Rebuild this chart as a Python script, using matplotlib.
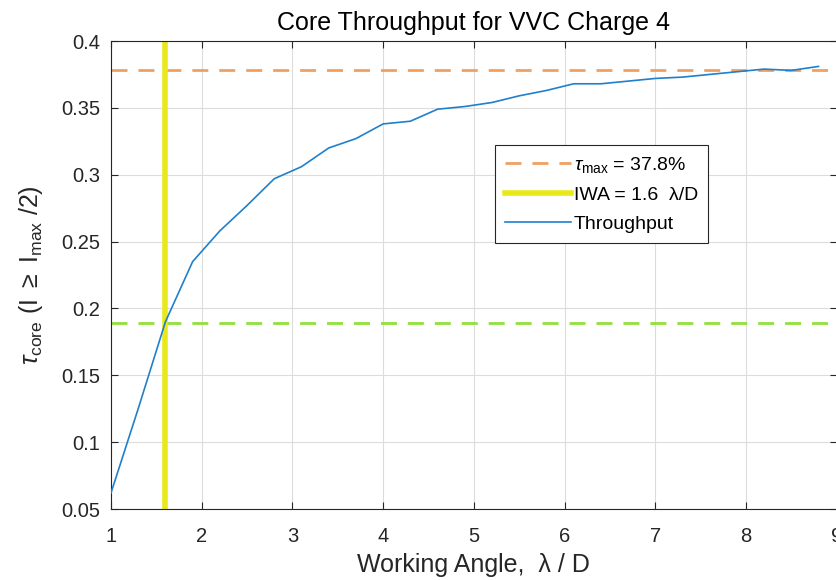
import numpy as np
import matplotlib
matplotlib.use("Agg")
import matplotlib.pyplot as plt

plt.rcParams['font.family'] = ['Liberation Sans', 'DejaVu Sans']
plt.rcParams['mathtext.fontset'] = 'custom'
plt.rcParams['mathtext.rm'] = 'Liberation Sans'
plt.rcParams['mathtext.it'] = 'Liberation Sans:italic'

# working angle (lambda/D) and core throughput
angle = [1.0, 1.3, 1.6, 1.9, 2.2, 2.5, 2.8, 3.1, 3.4, 3.7, 4.0, 4.3, 4.6, 4.9,
         5.2, 5.5, 5.8, 6.1, 6.4, 6.7, 7.0, 7.3, 7.6, 7.9, 8.2, 8.5, 8.8]
throughput = [0.062, 0.125, 0.190, 0.235, 0.258, 0.277, 0.297, 0.306, 0.320,
              0.327, 0.338, 0.340, 0.349, 0.351, 0.354, 0.359, 0.363, 0.368,
              0.368, 0.370, 0.372, 0.373, 0.375, 0.377, 0.379, 0.378, 0.381]
tau_max = 0.378
iwa = 1.6
xticks = [1, 2, 3, 4, 5, 6, 7, 8, 9]
yticks = [0.05, 0.1, 0.15, 0.2, 0.25, 0.3, 0.35, 0.4]

dark = '#262626'
fig = plt.figure(figsize=(8.37, 5.80), dpi=100)
ax = fig.add_axes([0.1326, 0.1224, 0.8670, 0.8069])

#lines
h_max = ax.axhline(tau_max, color='#F0A060', lw=2.0, dashes=(5.75, 3.95), zorder=2)
ax.axhline(tau_max / 2, color='#92E03C', lw=2.0, dashes=(5.75, 3.95), zorder=2)
h_iwa = ax.axvline(iwa, color='#E8E81A', lw=4.0, zorder=2)
h_tp, = ax.plot(angle, throughput, color='#1F80CC', lw=1.2, zorder=3)

ax.set_xlim(1, 9)
ax.set_ylim(0.05, 0.4)
ax.set_xticks(xticks)
ax.set_yticks(yticks)
ax.set_xticklabels([str(t) for t in xticks])
ax.set_yticklabels(['0.05', '0.1', '0.15', '0.2', '0.25', '0.3', '0.35', '0.4'])
ax.tick_params(direction='in', length=5, width=0.8, colors=dark, labelsize=14.5,
               top=True, right=True)
ax.tick_params(axis='x', pad=13)
ax.tick_params(axis='y', pad=8)
ax.grid(True, color='#DCDCDC', lw=0.8)
ax.set_axisbelow(True)
for s in ax.spines.values():
    s.set_color(dark)
    s.set_linewidth(0.8)

ax.set_title('Core Throughput for VVC Charge 4', fontsize=18, color='black', pad=8)
ax.set_xlabel('Working Angle,  λ / D', fontsize=18, color=dark, labelpad=5)
ax.set_ylabel(r'$\tau_{\rm core}$ (I $\geq$ I$_{\rm max}$ /2)', fontsize=18, color=dark,
              labelpad=11)

leg = ax.legend([h_max, h_iwa, h_tp],
                [r'$\tau_{\rm max}$ = 37.8%', 'IWA = 1.6  λ/D', 'Throughput'],
                loc='upper left', bbox_to_anchor=(0.529, 0.778), borderaxespad=0,
                fontsize=14, fancybox=False, framealpha=1, edgecolor=dark,
                handlelength=3.4, handletextpad=0.15, borderpad=0.5,
                labelspacing=0.6)
leg.get_frame().set_linewidth(0.8)

fig.savefig('out.png', dpi=100)
